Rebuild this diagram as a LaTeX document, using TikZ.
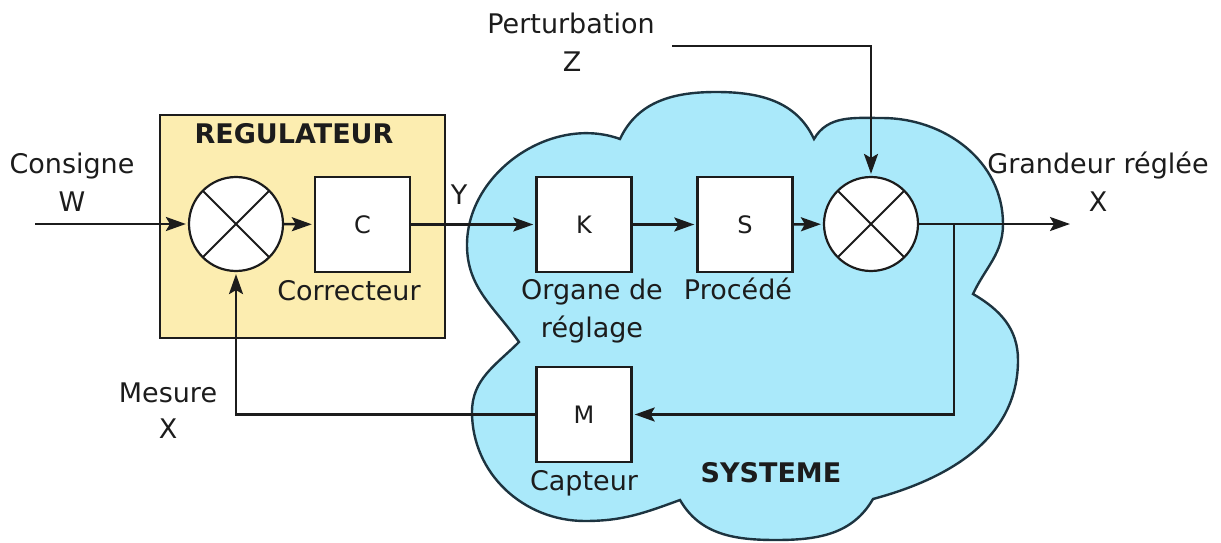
\documentclass[tikz,border=0pt]{standalone}
\usepackage{fontspec}
\setmainfont{DejaVu Sans}
\usetikzlibrary{arrows.meta}
\definecolor{cloudfill}{HTML}{AAE9FA}
\definecolor{regfill}{HTML}{FCEDB0}
\definecolor{ink}{HTML}{1C1C1C}
\definecolor{cloudline}{HTML}{1D3440}
\begin{document}
\begin{tikzpicture}[x=1pt,y=1pt,
  lbl/.style={font=\fontsize{27}{32}\selectfont, text=ink, inner sep=0pt, anchor=base},
  boldlbl/.style={lbl, font=\fontsize{27}{32}\selectfont\bfseries},
  blk/.style={draw=ink, line width=2.4pt, fill=white, minimum width=95pt, minimum height=95pt, inner sep=0pt, font=\fontsize{24}{28}\selectfont, text=ink},
  sumj/.style={circle, draw=ink, line width=2.2pt, fill=white, minimum size=94pt, inner sep=0pt,
    path picture={\draw[ink,line width=1.8pt] (path picture bounding box.south west) -- (path picture bounding box.north east)
      (path picture bounding box.north west) -- (path picture bounding box.south east);}},
  conn/.style={draw=ink, line width=2.5pt, shorten >=2pt, -{Stealth[length=20pt,width=14pt,inset=4pt]}},
  regbox/.style={draw=ink, line width=2pt, fill=regfill},
  cloudsty/.style={draw=cloudline, line width=2.4pt, fill=cloudfill}]
\useasboundingbox (0,0) rectangle (1221,-543);

% cloud (SYSTEME)
\draw[cloudsty] (519,-342) to[out=125,in=-90] (467,-245) to[out=90,in=160] (620,-139)
  to[out=65,in=180] (716,-92) to[out=0,in=115] (814,-139)
  to[out=60,in=180] (882,-118) to[out=0,in=90] (1003,-224) to[out=-90,in=65] (973,-294)
  to[out=-30,in=90] (1018,-360) to[out=-90,in=15] (873,-499)
  to[out=-120,in=0] (776,-540) to[out=180,in=-60] (680,-500)
  to[out=-160,in=0] (585,-521) to[out=180,in=-90] (472,-412) to[out=90,in=-135] cycle;

% regulator box
\draw[regbox] (160,-115) rectangle (445,-338);

% blocks
\node[sumj] (s1) at (236,-224) {};
\node[blk] (C) at (362.5,-224.5) {C};
\node[blk] (K) at (584,-224.5) {K};
\node[blk] (S) at (745,-224.5) {S};
\node[sumj] (s2) at (871,-224) {};
\node[blk] (M) at (584,-414.5) {M};

% free ends / corners
\coordinate (in) at (35,-224);
\coordinate (out) at (1070,-224);
\coordinate (br) at (954,-224);
\coordinate (brd) at (954,-414.5);
\coordinate (fbl) at (236,-414.5);
\coordinate (pz) at (672,-46);
\coordinate (pzc) at (871,-46);

% connectors
\draw[conn] (in) -- (s1);
\draw[conn] (s1) -- (C);
\draw[conn] (C) -- (K);
\draw[conn] (K) -- (S);
\draw[conn] (S) -- (s2);
\draw[conn, shorten >=0pt] (s2) -- (out);
\draw[conn] (br) -- (brd) -- (M.east);
\draw[conn] (M.west) -- (fbl) -- (s1.south);
\draw[conn] (pz) -- (pzc) -- (s2.north);

% labels
\node[lbl] (lcons) at (72,-173) {Consigne};
\node[lbl] (lw) at (72,-211) {W};
\node[boldlbl] (lreg) at (294,-143) {REGULATEUR};
\node[lbl] (lcorr) at (349,-300) {Correcteur};
\node[lbl] (ly) at (459,-204) {Y};
\node[lbl] (lpert) at (571,-34) {Perturbation};
\node[lbl] (lz) at (572,-72) {Z};
\node[lbl] (lgr) at (1098,-173) {Grandeur réglée};
\node[lbl] (lx1) at (1098,-211) {X};
\node[lbl] (lorg) at (592,-299) {Organe de};
\node[lbl] (lregl) at (592,-337) {réglage};
\node[lbl] (lproc) at (738,-299) {Procédé};
\node[lbl] (lcapt) at (584,-490) {Capteur};
\node[boldlbl] (lsys) at (771,-482) {SYSTEME};
\node[lbl] (lmes) at (168,-402) {Mesure};
\node[lbl] (lx2) at (168,-438) {X};
\end{tikzpicture}
\end{document}
